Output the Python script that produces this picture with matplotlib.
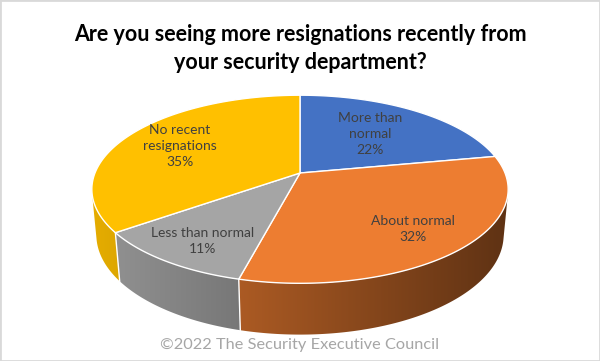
import numpy as np
import matplotlib.pyplot as plt
from matplotlib.colors import to_rgb
from matplotlib.patches import Rectangle, Polygon

plt.rcParams['font.family'] = ['Lato', 'DejaVu Sans']

# Data
categories = ['More than\nnormal', 'About normal', 'Less than normal', 'No recent\nresignations']
shares = [22, 32, 11, 35]
colors = ['#4472C4', '#ED7D31', '#A5A5A5', '#FFC000']
label_pos = [(370, 134), (413, 229), (203, 241), (180, 146)]

title = 'Are you seeing more resignations recently from\nyour security department?'
footer = '\u00a92022 The Security Executive Council'

# simple perspective camera for the 3D pie
tilt = np.arcsin(0.445)
dist = 5.18
focal = 1062
thick = 0.25
cx, cy = 300, 173


def project(x, y, z):
    s, c = np.sin(tilt), np.cos(tilt)
    v = y * s + z * c
    d = dist + y * c - z * s
    return cx + focal * x / d, cy - focal * v / d


def side_gradient(color, xs):
    t = np.clip((xs - 92) / 416, 0, 1)
    f = 0.90 - 0.50 * t
    return np.array(to_rgb(color))[None, :] * f[:, None]


fig = plt.figure(figsize=(6, 3.61), dpi=100)
ax = fig.add_axes([0, 0, 1, 1])
ax.set_xlim(0, 600)
ax.set_ylim(361, 0)
ax.axis('off')

bounds = np.deg2rad(np.concatenate([[0], np.cumsum(shares)]) / sum(shares) * 360)
limit = -1 / (dist * np.cos(tilt))  # side faces the camera when cos(angle) < limit

# side walls: one polygon per slice, filled with a left-to-right shading
gx = np.linspace(60, 540, 400)
for i, col in enumerate(colors):
    a = np.linspace(bounds[i], bounds[i + 1], 300)
    a = a[np.cos(a) < limit]
    if len(a) < 2:
        continue
    tx, ty = project(np.sin(a), np.cos(a), 0 * a)
    bx, by = project(np.sin(a), np.cos(a), 0 * a - thick)
    poly = Polygon(np.c_[np.r_[tx, bx[::-1]], np.r_[ty, by[::-1]]], closed=True,
                   facecolor='none', edgecolor='none')
    ax.add_patch(poly)
    img = ax.imshow(side_gradient(col, gx)[None, :, :], extent=(60, 540, 345, 150),
                    aspect='auto', interpolation='bilinear', zorder=1)
    img.set_clip_path(poly)

# white seams on the side at slice boundaries
for b in bounds[1:-1]:
    if np.cos(b) < limit:
        x0, y0 = project(np.sin(b), np.cos(b), 0)
        x1, y1 = project(np.sin(b), np.cos(b), -thick)
        ax.plot([x0, x1], [y0, y1], color='white', lw=1.0, zorder=2)

# top faces
c0 = project(0, 0, 0)
for i, col in enumerate(colors):
    a = np.linspace(bounds[i], bounds[i + 1], 200)
    xs, ys = project(np.sin(a), np.cos(a), 0 * a)
    ax.fill(np.r_[c0[0], xs], np.r_[c0[1], ys], facecolor=col, edgecolor='white', lw=1.0,
            joinstyle='round', zorder=3)

for lab, v, (lx, ly) in zip(categories, shares, label_pos):
    ax.text(lx, ly, f'{lab}\n{v}%', ha='center', va='center', fontsize=10,
            color='#404040', linespacing=1.4, zorder=4)

fig.text(0.5, 1 - 48.5 / 361, title, ha='center', va='center', fontsize=15.5,
         fontweight='bold', color='black', linespacing=1.4)
fig.text(0.5, 1 - 345 / 361, footer, ha='center', va='center', fontsize=11.8, color='#a6a6a6')

fig.add_artist(Rectangle((0, 0), 1, 1, transform=fig.transFigure, fill=False,
                         edgecolor='#d9d9d9', lw=2))

fig.savefig('out.png', dpi=100, facecolor='white')
